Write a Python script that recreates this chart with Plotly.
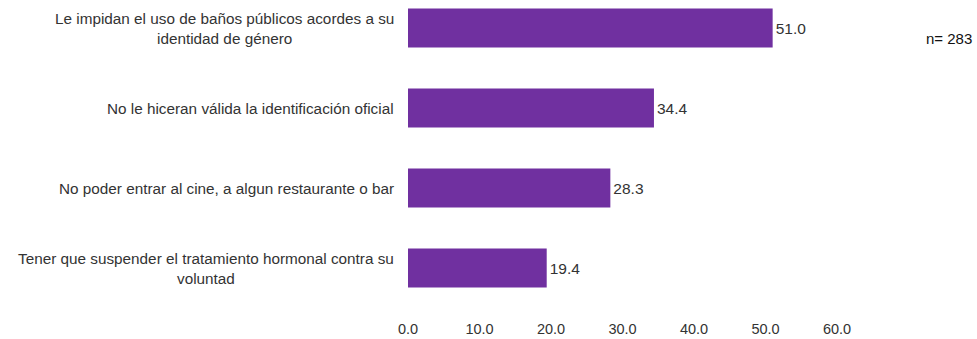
import plotly.graph_objects as go

categories = [
    "Le impidan el uso de baños públicos acordes a su<br>identidad de género",
    "No le hiceran válida la identificación oficial",
    "No poder entrar al cine, a algun restaurante o bar",
    "Tener que suspender el tratamiento hormonal contra su<br>voluntad",
]
values = [51.0, 34.4, 28.3, 19.4]
tick_vals = [0, 10, 20, 30, 40, 50, 60]
n_label = "n= 283"

font_family = "Liberation Sans, Arial, sans-serif"
text_color = "#333333"
bar_color = "#7030A0"

idx = list(range(len(categories)))

fig = go.Figure()
fig.add_trace(go.Bar(
    x=values,
    y=idx,
    orientation="h",
    marker=dict(color=bar_color, line=dict(width=0)),
    width=0.49,
    text=[f"{v:.1f}" for v in values],
    textposition="outside",
    textfont=dict(family=font_family, size=15.5, color=text_color),
    cliponaxis=False,
    hoverinfo="skip",
))

for i, c in zip(idx, categories):
    fig.add_annotation(
        x=0, xref="paper", y=i, yref="y",
        text=c, showarrow=False,
        xanchor="right", yanchor="middle", align="center",
        xshift=-12,
        font=dict(family=font_family, size=15.3, color=text_color),
    )

fig.add_annotation(
    x=1.261, xref="paper", y=0.877, yref="paper",
    text=n_label, showarrow=False, xanchor="center", yanchor="middle",
    font=dict(family=font_family, size=15, color="#111111"),
)

fig.update_layout(
    width=977, height=339,
    margin=dict(l=408, r=140, t=0, b=29),
    plot_bgcolor="white", paper_bgcolor="white",
    showlegend=False,
    xaxis=dict(
        range=[0, 60], tickvals=tick_vals, tickformat=".1f",
        showgrid=False, zeroline=False, showline=False,
        ticks="", ticklabelstandoff=8,
        tickfont=dict(family=font_family, size=14.5, color=text_color),
    ),
    yaxis=dict(
        range=[3.525, -0.35], showticklabels=False,
        showgrid=False, zeroline=False, showline=False, ticks="",
    ),
)

fig.write_html("out.html")
